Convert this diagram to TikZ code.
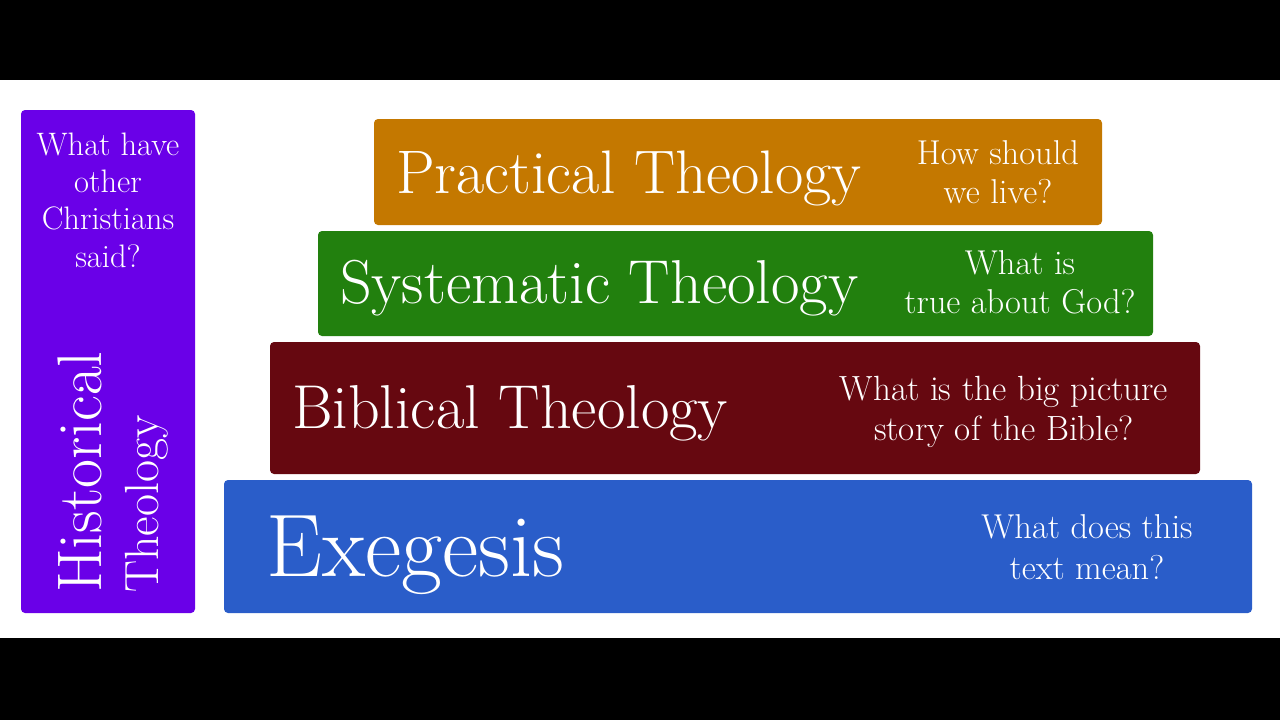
\documentclass[tikz,border=0pt]{standalone}
\usepackage{fontspec}
\definecolor{histpurple}{HTML}{6A00E8}
\definecolor{practorange}{HTML}{C47800}
\definecolor{systgreen}{HTML}{22800E}
\definecolor{biblred}{HTML}{660810}
\definecolor{exegblue}{HTML}{2A5DC9}
\begin{document}
\begin{tikzpicture}[x=1pt, y=-1pt,
    layer/.style ={rectangle, rounded corners=4pt, inner sep=0pt},
    title/.style ={anchor=base west, inner sep=0pt, text=white},
    question/.style ={anchor=base, align=center, inner sep=0pt, text=white,
      font=\fontsize{34.5}{38.5}\selectfont}]
   \useasboundingbox (0,0) rectangle (1280,720);
   \fill[black] (0,0) rectangle (1280,80);
   \fill[black] (0,638) rectangle (1280,720);

   % the layers
   \node[layer, fill=histpurple, minimum width=174pt, minimum height=503pt] (H) at (108,361.5) {};
   \node[layer, fill=practorange, minimum width=728pt, minimum height=106pt] (P) at (738,172) {};
   \node[layer, fill=systgreen, minimum width=835pt, minimum height=105pt] (S) at (735.5,283.5) {};
   \node[layer, fill=biblred, minimum width=930pt, minimum height=132pt] (B) at (735,408) {};
   \node[layer, fill=exegblue, minimum width=1028pt, minimum height=133pt] (E) at (738,546.5) {};

   % titles
   \node[title, font=\fontsize{61.5}{64}\selectfont] (Pt) at (396,193) {Practical Theology};
   \node[title, font=\fontsize{62}{64}\selectfont] (St) at (340,303) {Systematic Theology};
   \node[title, font=\fontsize{62}{64}\selectfont] (Bt) at (292,428) {Biblical Theology};
   \node[title, font=\fontsize{89}{92}\selectfont] (Et) at (266,576) {Exegesis};
   \node[title, rotate=90, font=\fontsize{63}{66}\selectfont] (Ht) at (101,593) {Historical};
   \node[title, rotate=90, font=\fontsize{48}{50}\selectfont] (Ht2) at (158,593) {Theology};

   % questions
   \node[question] (Pq) at (998,203) {How should\\we live?};
   \node[question] (Sq) at (1020,313) {What is\\true about God?};
   \node[question, font=\fontsize{35}{40}\selectfont] (Bq) at (1004,440) {What is the big picture\\story of the Bible?};
   \node[question, font=\fontsize{34.5}{41}\selectfont] (Eq) at (1087,579) {What does this\\text mean?};
   \node[question, font=\fontsize{32.5}{37.3}\selectfont] (Hq) at (108,267) {What have\\other\\Christians\\said?};
 \end{tikzpicture}
\end{document}
